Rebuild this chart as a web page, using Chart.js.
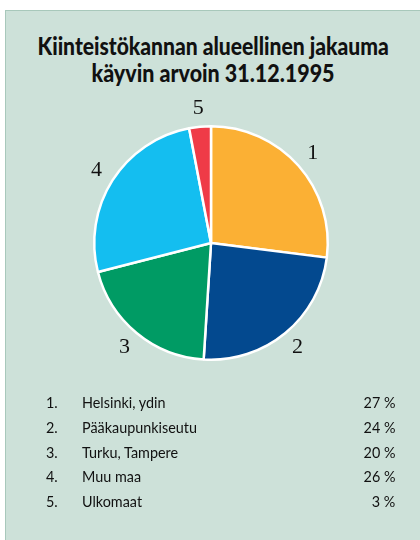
<!DOCTYPE html>
<html>
<head>
<meta charset="utf-8">
<script src="https://cdn.jsdelivr.net/npm/chart.js@4.4.0/dist/chart.umd.min.js"></script>
<style>
  html, body { margin: 0; padding: 0; background: #fff; }
  body { width: 420px; height: 540px; position: relative; overflow: hidden; }
  .panel {
    position: absolute; left: 5px; top: 10px; right: 0; bottom: 0;
    background: #cde1d9;
    border-left: 1px solid #a8c8bb; border-top: 1px solid #a8c8bb;
  }
  .tline {
    position: absolute; left: 7px; width: 413px; text-align: center;
    font-family: Lato, sans-serif; font-weight: 900; font-size: 24px; line-height: 24px;
    color: #111; white-space: nowrap;
  }
  .tline span { display: inline-block; transform-origin: center; }
  #pie { position: absolute; left: 0; top: 0; }
  .cell {
    position: absolute; font-family: Lato, sans-serif; font-size: 16px; line-height: 16px;
    color: #111; white-space: nowrap;
  }
</style>
</head>
<body>
<div class="panel"></div>
<div class="tline" id="t1" style="top:34px"><span></span></div>
<div class="tline" id="t2" style="top:61px"><span></span></div>
<canvas id="pie" width="420" height="540"></canvas>
<div id="table"></div>

<script>
// chart data
const titleLines = ['Kiinteistökannan alueellinen jakauma', 'käyvin arvoin 31.12.1995'];
const numbers = ['1', '2', '3', '4', '5'];
const regions = ['Helsinki, ydin', 'Pääkaupunkiseutu', 'Turku, Tampere', 'Muu maa', 'Ulkomaat'];
const shares = [27, 24, 20, 26, 3];

const sliceColors = ['#fbb034', '#03498f', '#009b64', '#14bef0', '#ef3b47'];

// title, squeezed to the width of the original lettering
const titleWidths = [351, 243];
titleLines.forEach((txt, i) => {
  const span = document.querySelector('#t' + (i + 1) + ' span');
  span.textContent = txt;
  span.style.transform = 'scaleX(' + (titleWidths[i] / span.offsetWidth) + ')';
});

// numbers next to the slices
const sliceNumbers = {
  id: 'sliceNumbers',
  afterDatasetsDraw(chart) {
    const ctx = chart.ctx;
    const arcs = chart.getDatasetMeta(0).data;
    ctx.save();
    ctx.font = '22px "Liberation Serif", serif';
    ctx.fillStyle = '#111';
    ctx.textAlign = 'center';
    ctx.textBaseline = 'middle';
    arcs.forEach((arc, i) => {
      const p = arc.getProps(['x', 'y', 'startAngle', 'endAngle', 'outerRadius'], true);
      const mid = (p.startAngle + p.endAngle) / 2;
      const r = p.outerRadius + 19;
      ctx.fillText(numbers[i], p.x + Math.cos(mid) * r, p.y + Math.sin(mid) * r);
    });
    ctx.restore();
  }
};

new Chart(document.getElementById('pie'), {
  type: 'pie',
  data: {
    labels: regions,
    datasets: [{
      data: shares,
      backgroundColor: sliceColors,
      borderColor: '#ffffff',
      borderWidth: 2.5
    }]
  },
  options: {
    responsive: false,
    animation: false,
    layout: { padding: { left: 93, right: 91, top: 125, bottom: 179 } },
    plugins: {
      legend: { display: false },
      tooltip: { enabled: false }
    }
  },
  plugins: [sliceNumbers]
});

// legend table below the pie
const table = document.getElementById('table');
const rowTop = 394, rowStep = 24.8;
const cells = [];
regions.forEach((name, i) => {
  const y = rowTop + i * rowStep;
  [[numbers[i] + '.', 46, 'left'], [name, 82, 'left'], [shares[i] + ' %', 395, 'right']].forEach(([txt, x, side]) => {
    const el = document.createElement('div');
    el.className = 'cell';
    el.textContent = txt;
    el.style.top = y + 'px';
    if (side === 'left') { el.style.left = x + 'px'; el.style.transformOrigin = 'left'; }
    else { el.style.right = (420 - x) + 'px'; el.style.transformOrigin = 'right'; }
    table.appendChild(el);
    cells.push(el);
  });
});
const squeeze = 115 / cells[4].offsetWidth;
cells.forEach(el => { el.style.transform = 'scaleX(' + squeeze + ')'; });
</script>
</body>
</html>
